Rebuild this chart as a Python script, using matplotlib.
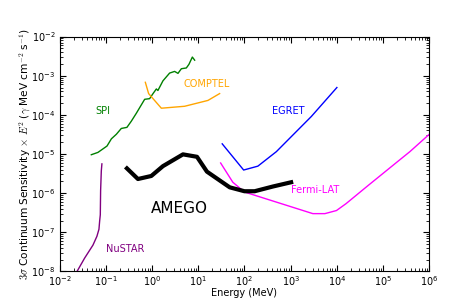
import numpy as np
import matplotlib
matplotlib.use('Agg')
import matplotlib.pyplot as plt

plt.rcParams['axes.unicode_minus'] = False

# Sensitivity curves (energy in MeV, sensitivity in gamma MeV cm^-2 s^-1)
spi_e = [0.0485, 0.0675, 0.106, 0.132, 0.169, 0.216, 0.286, 0.356, 0.457, 0.692, 0.887,
         1.05, 1.24, 1.34, 1.72, 2.40, 3.08, 3.64, 4.31, 5.52, 6.28, 7.45, 8.36]
spi_s = [9.6e-6, 1.1e-5, 1.6e-5, 2.45e-5, 3.2e-5, 4.5e-5, 4.8e-5, 6.9e-5, 1.1e-4, 2.5e-4, 2.6e-4,
         3.5e-4, 4.6e-4, 4.2e-4, 7.4e-4, 1.17e-3, 1.29e-3, 1.15e-3, 1.51e-3, 1.58e-3, 1.95e-3, 3.0e-3, 2.5e-3]

comptel_e = [0.716, 0.843, 1.59, 5.08, 16.2, 29.0]
comptel_s = [6.8e-4, 3.5e-4, 1.48e-4, 1.66e-4, 2.34e-4, 3.5e-4]

egret_e = [33, 96, 195, 490, 2800, 10000]
egret_s = [1.82e-5, 3.9e-6, 4.9e-6, 1.15e-5, 9.1e-5, 5.0e-4]

fermi_e = [30.5, 56, 100, 3020, 5500, 9800, 15800, 46800, 209000, 380000, 1e6]
fermi_s = [5.9e-6, 1.9e-6, 1.07e-6, 3.0e-7, 3.0e-7, 3.6e-7, 5.4e-7, 1.55e-6, 6.5e-6, 1.15e-5, 3.2e-5]

amego_e = [0.286, 0.495, 0.964, 1.72, 4.67, 9.38, 15.4, 47.9, 100, 166, 413, 1023]
amego_s = [4.3e-6, 2.3e-6, 2.75e-6, 4.9e-6, 9.8e-6, 8.5e-6, 3.55e-6, 1.41e-6, 1.12e-6, 1.12e-6, 1.48e-6, 1.9e-6]

nustar_e = [0.022, 0.0348, 0.0526, 0.0641, 0.0710, 0.0735, 0.0759, 0.0771, 0.0798, 0.0822]
nustar_s = [8.5e-9, 2.2e-8, 4.7e-8, 7.9e-8, 1.2e-7, 1.95e-7, 2.8e-7, 1.17e-6, 3.7e-6, 5.6e-6]

fig = plt.figure(figsize=(4.77, 3.05), dpi=100)
ax = fig.add_subplot(111)

ax.plot(spi_e, spi_s, color='green', lw=1.0)
ax.plot(comptel_e, comptel_s, color='orange', lw=1.0)
ax.plot(egret_e, egret_s, color='blue', lw=1.0)
ax.plot(fermi_e, fermi_s, color='magenta', lw=1.0)
ax.plot(nustar_e, nustar_s, color='purple', lw=1.0)
ax.plot(amego_e, amego_s, color='black', lw=3.0)

fs = 7
ax.text(0.059, 1.23e-4, 'SPI', color='green', fontsize=fs, va='center')
ax.text(4.83, 6.0e-4, 'COMPTEL', color='orange', fontsize=fs, va='center')
ax.text(400, 1.26e-4, 'EGRET', color='blue', fontsize=fs, va='center')
ax.text(1000, 1.23e-6, 'Fermi-LAT', color='magenta', fontsize=fs, va='center')
ax.text(0.1, 3.8e-8, 'NuSTAR', color='purple', fontsize=fs, va='center')
ax.text(0.966, 4.0e-7, 'AMEGO', color='black', fontsize=11, va='center')

ax.set_xscale('log')
ax.set_yscale('log')
ax.set_xlim(1e-2, 1e6)
ax.set_ylim(1e-8, 1e-2)

ax.set_xlabel('Energy (MeV)', fontsize=fs)
ax.set_ylabel(r'$3\sigma$ Continuum Sensitivity $\times$ $E^2$ ($\gamma$ MeV cm$^{-2}$ s$^{-1}$)',
              fontsize=7.6, math_fontfamily='cm')
ax.xaxis.set_label_coords(0.5, -0.072)
ax.yaxis.set_label_coords(-0.072, 0.5)

ax.tick_params(which='both', direction='in', top=True, right=True, labelsize=fs)
ax.tick_params(which='major', length=4)
ax.tick_params(which='minor', length=2)
ax.tick_params(axis='x', which='major', pad=2)
ax.tick_params(axis='y', which='major', pad=3)

fig.savefig('out.png', dpi=100)
